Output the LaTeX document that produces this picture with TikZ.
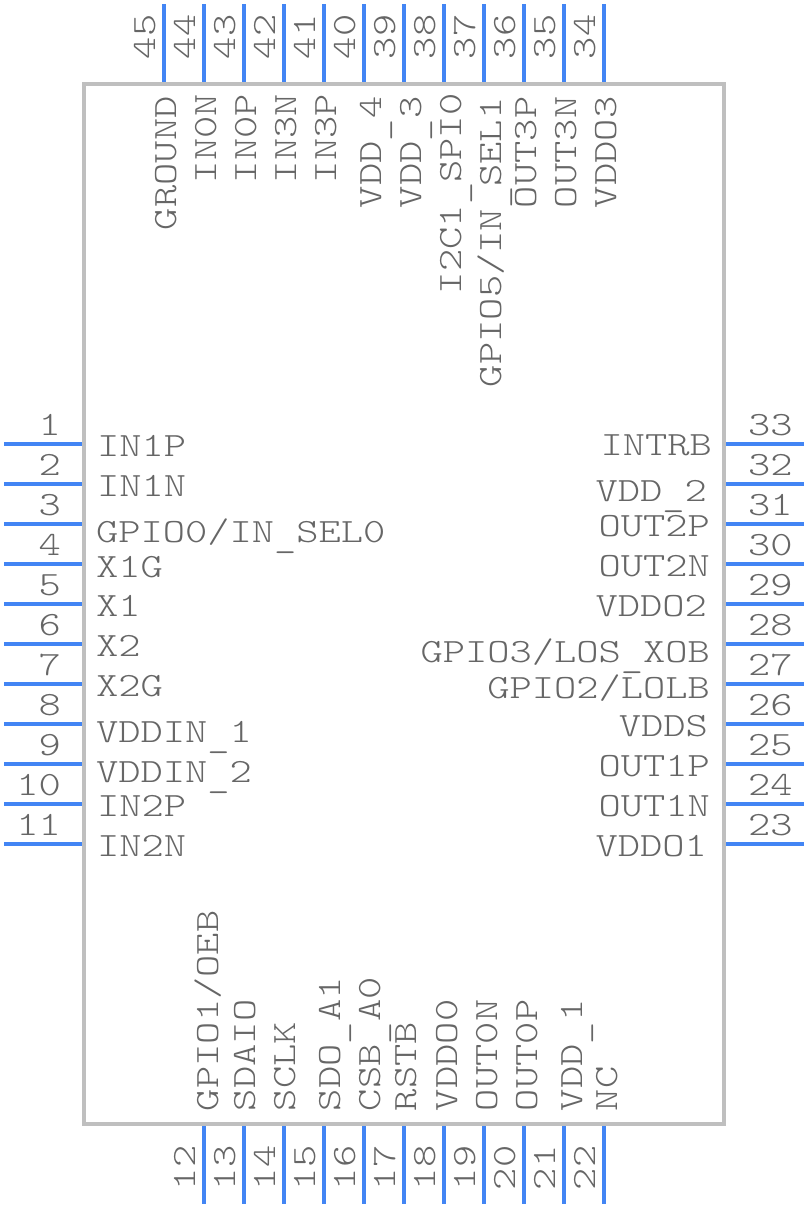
\documentclass[tikz,border=0pt]{standalone}
\usepackage{fontspec}
\newfontfamily\pinfont[FakeStretch=1.247]{Latin Modern Mono Light}
\definecolor{bodygrey}{HTML}{BFBFBF}
\definecolor{pinblue}{HTML}{4285F4}
\definecolor{txtgrey}{HTML}{666666}
\newcommand{\usc}{\raisebox{-5pt}{\_}}
\tikzset{
  chipbody/.style={draw=bodygrey,line width=4pt,fill=white,outer sep=0pt},
  pinline/.style={draw=pinblue,line width=4pt},
  lbl/.style={inner sep=0pt,outer sep=0pt,text=txtgrey,font=\pinfont\fontsize{34}{34}\selectfont,anchor=base west},
  lblr/.style={lbl,anchor=base east},
  vlbl/.style={lbl,rotate=90},
}
\begin{document}
\begin{tikzpicture}[x=1pt,y=-1pt]
\useasboundingbox (0,0) rectangle (808,1208);
\node[chipbody,minimum width=640pt,minimum height=1040pt,inner sep=0pt,anchor=north west] (chip) at (84,84) {};
% left pins
\foreach \n in {1,...,11}{
  \pgfmathsetmacro{\yy}{444+40*(\n-1)}
  \coordinate (pa\n) at (4,\yy); \coordinate (pb\n) at (82,\yy);
  \draw[pinline] (pa\n) -- (pb\n);
  \pgfmathsetmacro{\yb}{\yy-9}
  \node[lblr] (num\n) at (61,\yb) {\n};
}
% right pins
\foreach \n in {23,...,33}{
  \pgfmathsetmacro{\yy}{444+40*(33-\n)}
  \coordinate (pa\n) at (726,\yy); \coordinate (pb\n) at (804,\yy);
  \draw[pinline] (pa\n) -- (pb\n);
  \pgfmathsetmacro{\yb}{\yy-9}
  \node[lbl] (num\n) at (748,\yb) {\n};
}
% bottom pins
\foreach \n in {12,...,22}{
  \pgfmathsetmacro{\xx}{204+40*(\n-12)}
  \coordinate (pa\n) at (\xx,1126); \coordinate (pb\n) at (\xx,1204);
  \draw[pinline] (pa\n) -- (pb\n);
  \pgfmathsetmacro{\xb}{\xx-9}
  \node[vlbl] (num\n) at (\xb,1190) {\n};
}
% top pins
\foreach \n in {34,...,45}{
  \pgfmathsetmacro{\xx}{604-40*(\n-34)}
  \coordinate (pa\n) at (\xx,4); \coordinate (pb\n) at (\xx,82);
  \draw[pinline] (pa\n) -- (pb\n);
  \pgfmathsetmacro{\xb}{\xx-9}
  \node[vlbl] (num\n) at (\xb,59) {\n};
}
% left labels
\node[lbl] (l1) at (97,456) {IN1P};
\node[lbl] (l2) at (97,496) {IN1N};
\node[lbl] (l3) at (96,542) {GPIO0/IN\usc SEL0};
\node[lbl] (l4) at (96,577) {X1G};
\node[lbl] (l5) at (96,616) {X1};
\node[lbl] (l6) at (96,656) {X2};
\node[lbl] (l7) at (96,696) {X2G};
\node[lbl] (l8) at (96,742) {VDDIN\usc 1};
\node[lbl] (l9) at (96,782) {VDDIN\usc 2};
\node[lbl] (l10) at (97,816) {IN2P};
\node[lbl] (l11) at (97,856) {IN2N};
% right labels
\node[lblr] (l33) at (712,455) {INTRB};
\node[lblr] (l32) at (707,501) {VDD\usc 2};
\node[lblr] (l31) at (710,536) {OUT2P};
\node[lblr] (l30) at (710,576) {OUT2N};
\node[lblr] (l29) at (707,616) {VDDO2};
\node[lblr] (l28) at (710,662) {GPIO3/LOS\usc XOB};
\node[lblr] (l27) at (710,698) {GPIO2/LOLB};
\node[lblr] (l26) at (708,736) {VDDS};
\node[lblr] (l25) at (710,776) {OUT1P};
\node[lblr] (l24) at (710,816) {OUT1N};
\node[lblr] (l23) at (707,856) {VDDO1};
% top labels
\node[vlbl] (l34) at (616,208) {VDDO3};
\node[vlbl] (l35) at (576,208) {OUT3N};
\node[vlbl] (l36) at (536,208) {OUT3P};
\node[vlbl] (l37) at (501,387) {GPIO5/IN\usc SEL1};
\node[vlbl] (l38) at (461,294) {I2C1\usc SPI0};
\node[vlbl] (l39) at (421,208) {VDD\usc 3};
\node[vlbl] (l40) at (381,208) {VDD\usc 4};
\node[vlbl] (l41) at (336,183) {IN3P};
\node[vlbl] (l42) at (296,183) {IN3N};
\node[vlbl] (l43) at (256,183) {IN0P};
\node[vlbl] (l44) at (216,183) {IN0N};
\node[vlbl] (l45) at (176,230) {GROUND};
% bottom labels
\node[vlbl] (l12) at (218,1111) {GPIO1/OEB};
\node[vlbl] (l13) at (255,1111) {SDAIO};
\node[vlbl] (l14) at (295,1111) {SCLK};
\node[vlbl] (l15) at (340,1111) {SDO\usc A1};
\node[vlbl] (l16) at (380,1111) {CSB\usc A0};
\node[vlbl] (l17) at (416,1111) {RSTB};
\node[vlbl] (l18) at (457,1111) {VDDO0};
\node[vlbl] (l19) at (497,1111) {OUT0N};
\node[vlbl] (l20) at (537,1111) {OUT0P};
\node[vlbl] (l21) at (582,1111) {VDD\usc 1};
\node[vlbl] (l22) at (617,1111) {NC};
\end{tikzpicture}
\end{document}
